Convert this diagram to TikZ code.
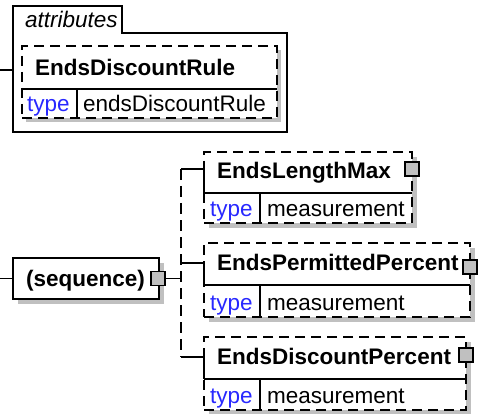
\documentclass[tikz,border=0pt]{standalone}
\usepackage{fontspec}
\setmainfont{Liberation Sans}
\usetikzlibrary{calc}
\definecolor{shadowgray}{RGB}{192,192,192}
\definecolor{typeblue}{RGB}{40,40,255}
\tikzset{
  line/.style={line width=1.3pt, draw=black},
  dashline/.style={line width=1.3pt, draw=black, dash pattern=on 11pt off 6pt},
  box/.style={draw=black, line width=1.3pt, fill=white, inner sep=0pt, outer sep=0pt, anchor=north west},
  optbox/.style={box, dash pattern=on 10pt off 6pt},
  shadowbox/.style={fill=shadowgray, draw=none, inner sep=0pt, outer sep=0pt, anchor=north west},
  area/.style={inner sep=0pt, outer sep=0pt, anchor=north west},
  nametext/.style={font=\fontsize{22.5}{26}\selectfont\bfseries, inner sep=0pt, anchor=base west},
  typelabel/.style={font=\fontsize{22.5}{26}\selectfont, text=typeblue, inner sep=0pt, anchor=base west},
  typetext/.style={font=\fontsize{22.5}{26}\selectfont, inner sep=0pt, anchor=base west},
  grouplabel/.style={font=\fontsize{22.5}{26}\selectfont\itshape, inner sep=0pt, anchor=base west},
  expander/.style={draw=black, fill=shadowgray, line width=1.3pt, minimum size=14pt, inner sep=0pt, outer sep=0pt}
}
\begin{document}
\begin{tikzpicture}[x=1pt,y=-1pt]
\useasboundingbox (0,0) rectangle (479,414);

% attributes group
\draw[line] (13,6) -- (122,6) -- (122,33) -- (287,33) -- (287,132) -- (13,132) -- cycle;
\node[grouplabel] (attrlabel) at (25,28) {attributes};
\coordinate (attrin) at (0,70);
\coordinate (attrport) at (13,70);
\draw[line] (attrin) -- (attrport);

\node[shadowbox, minimum width=255pt, minimum height=72pt] (ruleshadow) at (26,50) {};
\node[optbox, minimum width=255pt, minimum height=72pt] (rule) at (22,46) {};
\node[area, minimum width=255pt, minimum height=43pt] (rulename) at (22,46) {};
\draw[line] (rulename.south west) -- (rulename.south east);
\draw[line] ($(rulename.south west)+(55,0)$) -- ($(rule.south west)+(55,0)$);
\node[nametext] (rulelabel) at (35,76) {EndsDiscountRule};
\node[typelabel] (ruletype) at (27,112) {type};
\node[typetext] (ruletypeval) at (83,112) {endsDiscountRule};

% sequence
\node[shadowbox, minimum width=146pt, minimum height=41pt] (seqshadow) at (18,263) {};
\node[box, minimum width=146pt, minimum height=41pt] (seq) at (13,258) {};
\node[nametext] (seqlabel) at (26,286) {(sequence)};
\node[expander] (seqexp) at (158,278.5) {};
\coordinate (seqin) at (0,278.5);
\coordinate (seqj) at (181,278.5);
\draw[line] (seqin) -- (seq.west);
\draw[line] (seqexp.east) -- (seqj);

% element 1
\node[shadowbox, minimum width=208pt, minimum height=71pt] (e1shadow) at (209,157) {};
\node[optbox, minimum width=208pt, minimum height=71pt] (e1) at (204,152) {};
\node[area, minimum width=208pt, minimum height=41pt] (e1name) at (204,152) {};
\draw[line] (e1name.south west) -- (e1name.south east);
\draw[line] ($(e1name.south west)+(56,0)$) -- ($(e1.south west)+(56,0)$);
\node[nametext] (e1label) at (217,179) {EndsLengthMax};
\node[typelabel] (e1type) at (210,216) {type};
\node[typetext] (e1typeval) at (267,216) {measurement};
\node[expander] (e1exp) at (412,169) {};

% element 2
\node[shadowbox, minimum width=266pt, minimum height=74pt] (e2shadow) at (209,248) {};
\node[optbox, minimum width=266pt, minimum height=74pt] (e2) at (204,243) {};
\node[area, minimum width=266pt, minimum height=42pt] (e2name) at (204,243) {};
\draw[line] (e2name.south west) -- (e2name.south east);
\draw[line] ($(e2name.south west)+(56,0)$) -- ($(e2.south west)+(56,0)$);
\node[nametext] (e2label) at (217,270) {EndsPermittedPercent};
\node[typelabel] (e2type) at (210,310) {type};
\node[typetext] (e2typeval) at (267,310) {measurement};
\node[expander] (e2exp) at (470,267) {};

% element 3
\node[shadowbox, minimum width=262pt, minimum height=73pt] (e3shadow) at (209,342) {};
\node[optbox, minimum width=262pt, minimum height=73pt] (e3) at (204,337) {};
\node[area, minimum width=262pt, minimum height=42pt] (e3name) at (204,337) {};
\draw[line] (e3name.south west) -- (e3name.south east);
\draw[line] ($(e3name.south west)+(56,0)$) -- ($(e3.south west)+(56,0)$);
\node[nametext] (e3label) at (217,364) {EndsDiscountPercent};
\node[typelabel] (e3type) at (210,403) {type};
\node[typetext] (e3typeval) at (267,403) {measurement};
\node[expander] (e3exp) at (466,355) {};

% sequence connectors
\coordinate (j1) at (181,169);
\coordinate (j2) at (181,263);
\coordinate (j3) at (181,357);
\draw[dashline] (j1) -- (j3);
\draw[line] (j1) -- (j1 -| e1.west) -- (e1name.south west);
\draw[line] (j2) -- (j2 -| e2.west) -- (e2name.south west);
\draw[line] (j3) -- (j3 -| e3.west) -- (e3name.south west);
\end{tikzpicture}
\end{document}
